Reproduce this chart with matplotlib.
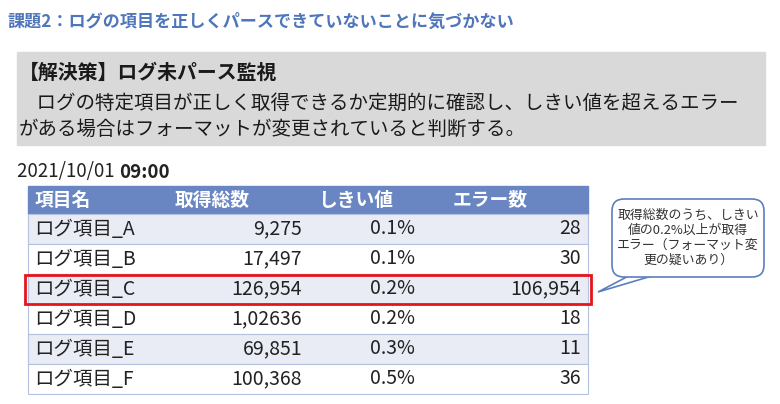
import matplotlib
matplotlib.use("Agg")
import matplotlib.pyplot as plt
from matplotlib.patches import Rectangle, FancyBboxPatch, Polygon

plt.rcParams["font.family"] = "Noto Sans CJK JP"

title = "課題2：ログの項目を正しくパースできていないことに気づかない"
heading = "【解決策】ログ未パース監視"
body1 = "　ログの特定項目が正しく取得できるか定期的に確認し、しきい値を超えるエラー"
body2 = "がある場合はフォーマットが変更されていると判断する。"
date_part = "2021/10/01 "
time_part = "09:00"
headers = ["項目名", "取得総数", "しきい値", "エラー数"]
names = ["ログ項目_A", "ログ項目_B", "ログ項目_C", "ログ項目_D", "ログ項目_E", "ログ項目_F"]
totals = ["9,275", "17,497", "126,954", "1,02636", "69,851", "100,368"]
thresholds = ["0.1%", "0.1%", "0.2%", "0.2%", "0.3%", "0.5%"]
errors = ["28", "30", "106,954", "18", "11", "36"]
highlight = 2
callout = "取得総数のうち、しきい\n値の0.2%以上が取得\nエラー（フォーマット変\n更の疑いあり）"

fig = plt.figure(figsize=(7.8, 4.04), dpi=100)
ax = fig.add_axes([0, 0, 1, 1])
ax.set_xlim(0, 780); ax.set_ylim(404, 0); ax.axis("off")

ax.text(8, 22, title, color="#4f76ba", fontsize=12.3, fontweight="bold", va="center")
ax.add_patch(Rectangle((17, 52), 748, 93, color="#d9d9d9"))
ax.text(19, 72, heading, fontsize=14.3, fontweight="bold", va="center", color="#1a1a1a")
ax.text(17, 103, body1, fontsize=14, va="center", color="#1a1a1a")
ax.text(19, 129, body2, fontsize=14, va="center", color="#1a1a1a")
t = ax.text(17, 172, date_part, fontsize=13.5, va="center", color="#222222")
fig.canvas.draw()
bb = t.get_window_extent().transformed(ax.transData.inverted())
ax.text(bb.x1, 172, time_part, fontsize=13.5, va="center", fontweight="bold", color="#222222")

x0, x1 = 28, 588
hy0, hy1 = 186, 214
rh = 30
ax.add_patch(Rectangle((x0, hy0), x1 - x0, hy1 - hy0, color="#6a86c2"))
hx = [35, 175, 318, 453]
for h, x in zip(headers, hx):
    ax.text(x, (hy0 + hy1) / 2, h, color="white", fontsize=13.5, fontweight="bold", va="center")
for i in range(len(names)):
    y = hy1 + i * rh
    ax.add_patch(Rectangle((x0, y), x1 - x0, rh,
                           facecolor="#e9ebf5" if i % 2 == 0 else "white",
                           edgecolor="#b4c1e0", lw=0.8))
    cy = y + rh / 2
    ax.text(34, cy, names[i], fontsize=14, va="center", color="#222222")
    ax.text(302, cy, totals[i], fontsize=14, va="center", ha="right", color="#222222")
    ax.text(415, cy, thresholds[i], fontsize=14, va="center", ha="right", color="#222222")
    ax.text(581, cy, errors[i], fontsize=14, va="center", ha="right", color="#222222")
yh = hy1 + highlight * rh
ax.add_patch(Rectangle((25, yh + 1), 566, rh - 1, fill=False, edgecolor="#e8141b", lw=2))

ax.add_patch(Polygon([[640, 270], [598, 292], [672, 270]], closed=True,
                     facecolor="white", edgecolor="#5b7fbf", lw=1.2, zorder=3))
ax.add_patch(FancyBboxPatch((612, 199), 152, 78, boxstyle="round,pad=0,rounding_size=12",
                            facecolor="white", edgecolor="#5b7fbf", lw=1.2, zorder=4))
ax.add_patch(Rectangle((641, 268), 30, 6, color="white", zorder=5))
ax.text(688, 238, callout, fontsize=9.3, ha="center", va="center", color="#333333",
        linespacing=1.2, zorder=6)

fig.savefig("out.png", dpi=100)
